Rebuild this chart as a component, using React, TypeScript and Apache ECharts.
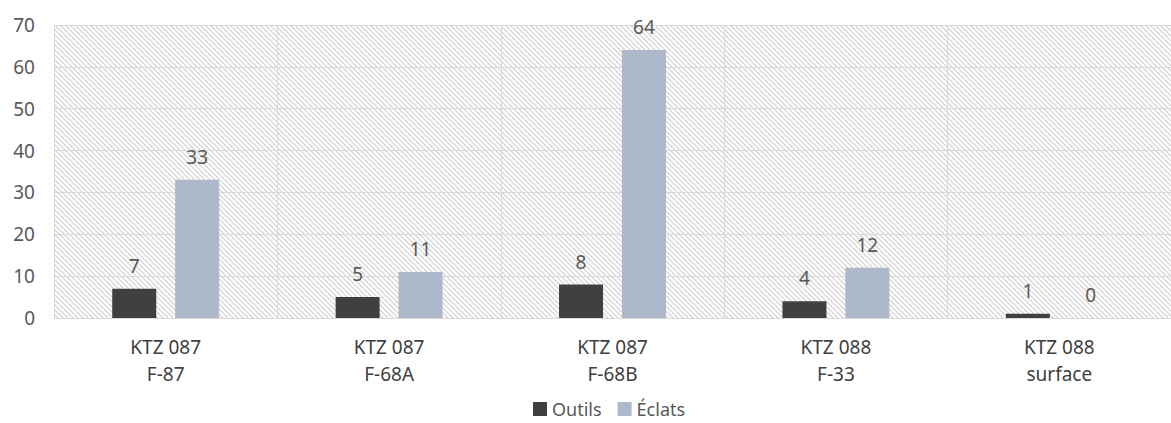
import React, { useEffect, useRef } from "react";
import * as echarts from "echarts";

const categories = ["KTZ 087\nF-87", "KTZ 087\nF-68A", "KTZ 087\nF-68B", "KTZ 088\nF-33", "KTZ 088\nsurface"];
const outils = [7, 5, 8, 4, 1];
const eclats = [33, 11, 64, 12, 0];
const seriesNames = ["Outils", "Éclats"];
const yTicks = { min: 0, max: 70, interval: 10 };

const FONT = "Noto Sans";

function makeHatch(): HTMLCanvasElement {
  const p = 5;
  const c = document.createElement("canvas");
  c.width = p;
  c.height = p;
  const ctx = c.getContext("2d")!;
  ctx.fillStyle = "#ffffff";
  ctx.fillRect(0, 0, p, p);
  for (let y = 0; y < p; y++) {
    for (let x = 0; x < p; x++) {
      const d = (((x - y) % p) + p) % p;
      if (d === 0) {
        ctx.fillStyle = "#d4d4d4";
        ctx.fillRect(x, y, 1, 1);
      } else if (d === 1 || d === p - 1) {
        ctx.fillStyle = "#eeeeee";
        ctx.fillRect(x, y, 1, 1);
      }
    }
  }
  return c;
}

export default function App() {
  const ref = useRef<HTMLDivElement>(null);
  useEffect(() => {
    document.body.style.margin = "0";
    const chart = echarts.init(ref.current!, null, { renderer: "svg" });
    const hatch = makeHatch();
    const labelCfg = {
      show: true,
      position: "top",
      distance: 12,
      fontFamily: FONT,
      fontSize: 19,
      lineHeight: 22,
      color: "#595959",
    };
    chart.setOption({
      animation: false,
      textStyle: { fontFamily: FONT },
      grid: {
        left: 54,
        top: 25,
        bottom: 105,
        right: -10,
        show: true,
        borderWidth: 0,
        backgroundColor: { image: hatch, repeat: "repeat", imageWidth: 5, imageHeight: 5 } as any,
      },
      legend: {
        data: seriesNames,
        left: 528,
        top: 394,
        padding: 5,
        itemWidth: 14,
        itemHeight: 14,
        itemGap: 16,
        icon: "rect",
        textStyle: { fontFamily: FONT, fontSize: 18, color: "#595959", lineHeight: 20 },
      },
      xAxis: {
        type: "category",
        data: categories,
        axisLine: { show: true, lineStyle: { color: "#d9d9d9", width: 1 } },
        axisTick: { show: false },
        splitLine: { show: true, lineStyle: { color: "#d9d9d9", width: 1 } },
        axisLabel: {
          interval: 0,
          margin: 15,
          fontFamily: FONT,
          fontSize: 19,
          lineHeight: 27,
          color: "#404040",
        },
      },
      yAxis: {
        type: "value",
        min: yTicks.min,
        max: yTicks.max,
        interval: yTicks.interval,
        axisLine: { show: false },
        axisTick: { show: false },
        splitLine: { show: true, lineStyle: { color: "#d9d9d9", width: 1 } },
        axisLabel: { margin: 19, fontFamily: FONT, fontSize: 19, color: "#595959" },
      },
      series: [
        {
          name: seriesNames[0],
          type: "bar",
          data: outils,
          barWidth: 44,
          barGap: "43%",
          itemStyle: { color: "#404040" },
          label: labelCfg,
        },
        {
          name: seriesNames[1],
          type: "bar",
          data: eclats,
          barWidth: 44,
          barGap: "43%",
          itemStyle: { color: "#adb9ca" },
          label: labelCfg,
        },
      ],
    });
    return () => chart.dispose();
  }, []);
  return <div ref={ref} style={{ position: "absolute", left: 0, top: 0, width: 1171, height: 423 }} />;
}
